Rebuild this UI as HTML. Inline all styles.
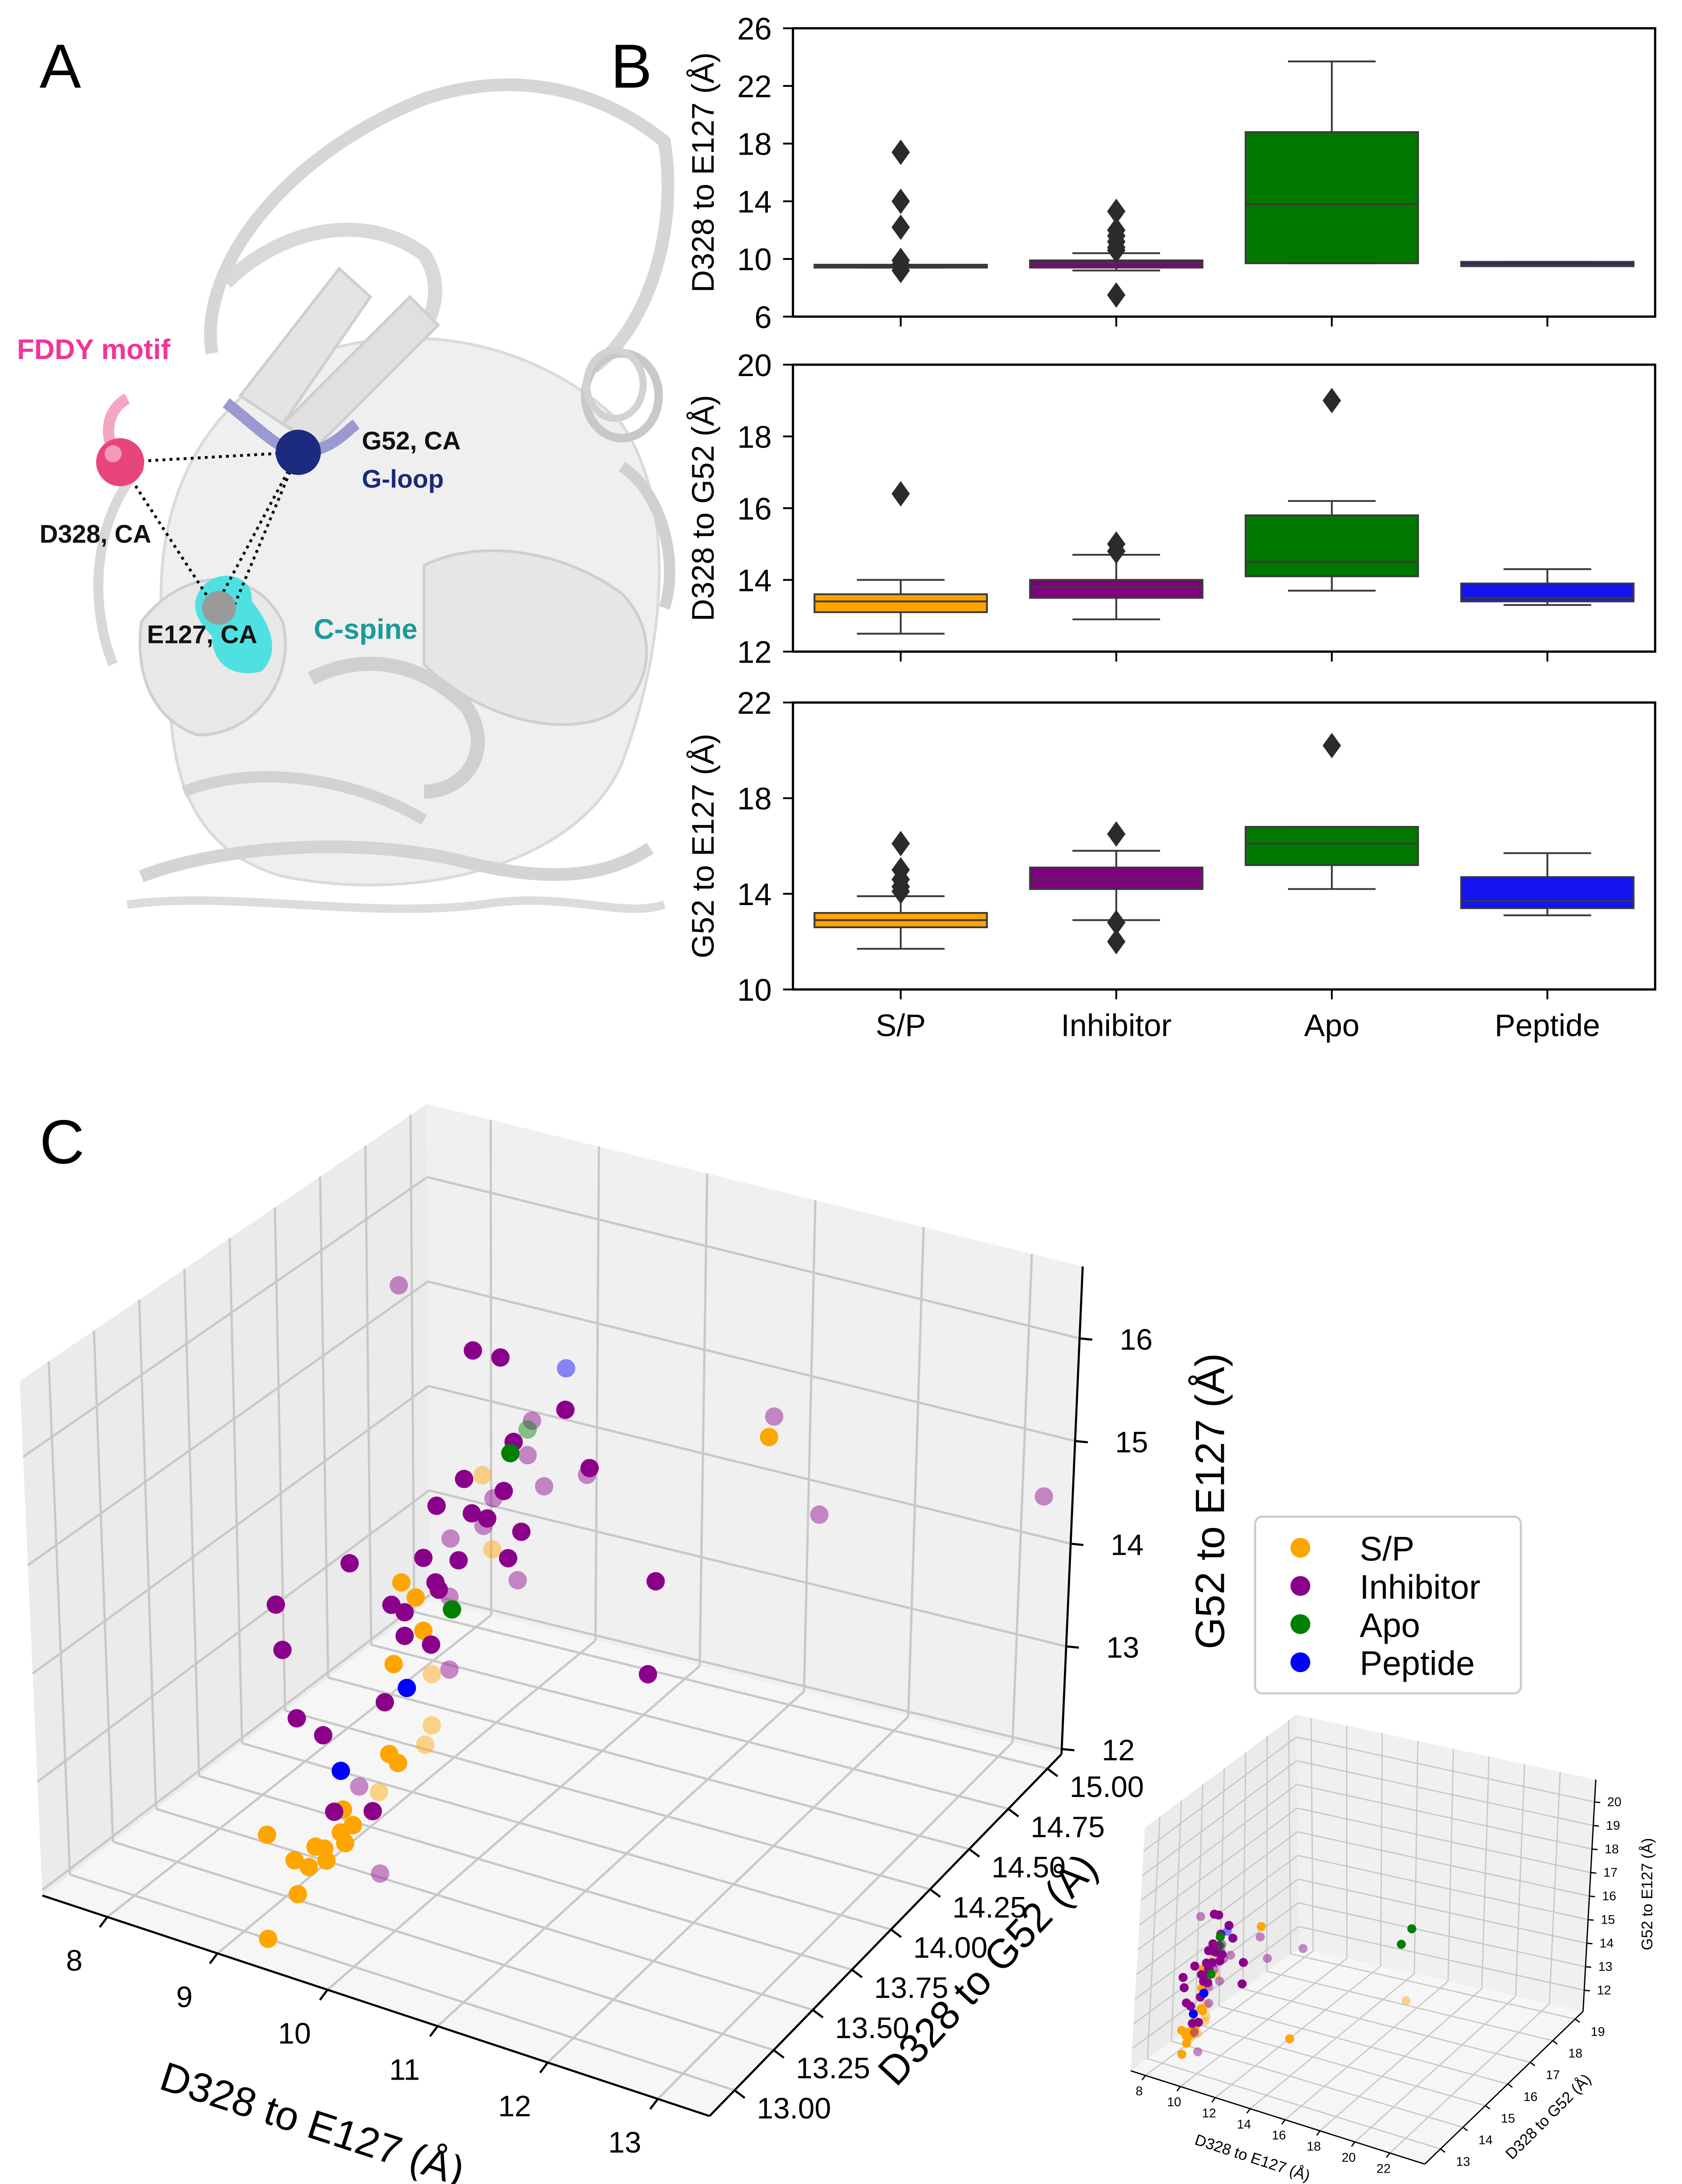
<!DOCTYPE html>
<html><head><meta charset="utf-8"><style>
html,body{margin:0;padding:0;background:#fff;overflow:hidden;}
svg{display:block;font-family:"Liberation Sans",sans-serif;}
</style></head><body>
<svg id="fig" xmlns="http://www.w3.org/2000/svg" width="3851" height="5079" viewBox="0 0 1190 1569.5" preserveAspectRatio="none">
<rect x="0" y="0" width="1190" height="1569.5" fill="#fff"/>
<!-- Panel A -->
<g id="panelA">
<text x="28" y="62" font-size="44">A</text>
<g fill="#ececec" stroke="#cfcfcf" stroke-width="2">
<path d="M120 480 C100 380 130 300 200 260 C280 220 380 240 440 300 C480 360 470 460 440 540 C410 610 300 640 200 620 C130 600 120 540 120 480Z" fill="#efefef" stroke="#dadada"/>
<path d="M150 250 C140 190 200 110 300 70 C360 50 420 60 470 100 C480 160 460 230 420 260" fill="none" stroke="#d6d6d6" stroke-width="9"/>
<path d="M160 200 C200 160 260 150 300 180 C320 210 300 250 260 260" fill="none" stroke="#d9d9d9" stroke-width="10"/>
<path d="M170 280 L240 190 L262 210 L200 300Z" fill="#e4e4e4"/>
<path d="M200 300 L290 210 L310 230 L225 315Z" fill="#e0e0e0"/>
<ellipse cx="440" cy="280" rx="26" ry="30" fill="none" stroke="#c8c8c8" stroke-width="6"/>
<ellipse cx="435" cy="272" rx="20" ry="24" fill="none" stroke="#d2d2d2" stroke-width="5"/>
<path d="M300 400 C340 380 400 390 440 420 C470 450 460 500 420 510 C380 520 330 500 300 470Z" fill="#e6e6e6"/>
<path d="M100 440 C130 400 180 400 200 440 C210 480 180 520 140 520 C110 510 95 480 100 440Z" fill="#e8e8e8"/>
<path d="M100 620 C150 600 250 590 330 610 C390 625 430 620 460 600" fill="none" stroke="#d4d4d4" stroke-width="9"/>
<path d="M90 640 C160 630 260 650 340 640 C400 630 440 650 470 640" fill="none" stroke="#dcdcdc" stroke-width="6"/>
<path d="M130 560 C180 540 250 550 300 580" fill="none" stroke="#d2d2d2" stroke-width="8"/>
<path d="M220 480 C260 460 300 470 330 500 C350 530 330 560 300 560" fill="none" stroke="#d0d0d0" stroke-width="10"/>
<path d="M100 330 C70 360 60 420 80 470" fill="none" stroke="#d8d8d8" stroke-width="7"/>
<path d="M440 330 C470 350 480 400 470 430" fill="none" stroke="#d0d0d0" stroke-width="8"/>
</g>
<path d="M85 327 C72 310 75 290 90 282" fill="none" stroke="#f4a6c4" stroke-width="8"/>
<path d="M160 285 C180 300 200 322 215 320 C235 318 245 305 252 300" fill="none" stroke="#9a9ad0" stroke-width="8"/>
<path d="M140 420 C150 400 180 405 178 425 C190 440 200 460 185 475 C165 480 150 470 150 450 C140 440 135 430 140 420Z" fill="#3ee0e0" opacity="0.9"/>
<g stroke="#000" stroke-width="2" stroke-dasharray="2,3" fill="none">
<line x1="85" y1="327" x2="211" y2="320"/><line x1="85" y1="327" x2="152" y2="430"/><line x1="211" y1="320" x2="152" y2="430"/><line x1="211" y1="320" x2="165" y2="430"/>
</g>
<circle cx="85" cy="327" r="17" fill="#e8457f"/>
<circle cx="80" cy="321" r="6" fill="#f49abb"/>
<circle cx="211" cy="320" r="16" fill="#1c2a80"/>
<circle cx="155" cy="430" r="12" fill="#9a9a9a"/>
<g font-weight="bold" font-size="18">
<text x="12" y="254" fill="#f0359a" font-size="20">FDDY motif</text>
<text x="256" y="318" fill="#111">G52, CA</text>
<text x="256" y="345" fill="#1a2a7a">G-loop</text>
<text x="28" y="384" fill="#111">D328, CA</text>
<text x="104" y="455" fill="#111">E127, CA</text>
<text x="222" y="452" fill="#1a9a9a" font-size="20">C-spine</text>
</g>
</g>
<text x="432" y="62" font-size="44">B</text>
<text x="28" y="823" font-size="44">C</text>
<g id="panelB"></g>
<g id="panelC"></g>
<g id="inset"></g>
</svg>
<script>
// ---------- Box plot data ----------
const categories = ["S/P","Inhibitor","Apo","Peptide"];
const p1Q1 = [9.4, 9.4, 9.7, 9.5];
const p1Med = [9.5, 9.7, 13.8, 9.6];
const p1Q3 = [9.6, 9.9, 18.8, 9.8];
const p1Lo = [9.4, 9.2, 9.7, 9.5];
const p1Hi = [9.6, 10.4, 23.7, 9.8];
const p1Out = [[17.4,14.0,12.2,9.9,9.6,9.2],[13.3,12.0,11.6,11.2,10.8,10.6,7.5],[],[]];
const p1Ticks = [6,10,14,18,22,26];
const p2Q1 = [13.1, 13.5, 14.1, 13.4];
const p2Med = [13.4, 13.8, 14.5, 13.5];
const p2Q3 = [13.6, 14.0, 15.8, 13.9];
const p2Lo = [12.5, 12.9, 13.7, 13.3];
const p2Hi = [14.0, 14.7, 16.2, 14.3];
const p2Out = [[16.4],[15.0,14.8],[19.0],[]];
const p2Ticks = [12,14,16,18,20];
const p3Q1 = [12.6, 14.2, 15.2, 13.4];
const p3Med = [12.9, 14.6, 16.1, 13.7];
const p3Q3 = [13.2, 15.1, 16.8, 14.7];
const p3Lo = [11.7, 12.9, 14.2, 13.1];
const p3Hi = [13.9, 15.8, 16.8, 15.7];
const p3Out = [[16.1,15.0,14.6,14.3,14.1],[16.5,12.8,12.0],[20.2],[]];
const p3Ticks = [10,14,18,22];

// ---------- 3D scatter data (x: D328-E127, y: D328-G52, z: G52-E127) ----------
const spX = [13.30,8.75,9.02,8.74,8.99,9.12,9.18,9.28,9.26,9.45,9.41,9.52,9.43,9.89,9.96,10.09,10.16,9.85,9.93, 9.56,9.65,9.10,9.10,9.04,8.62];
const spY = [13.34,13.34,13.34,13.34,13.34,13.34,13.34,13.34,13.34,13.34,13.34,13.34,13.34,13.34,13.34,13.34,13.34,13.34,13.34, 14.14,14.14,14.14,14.14,14.14,14.14];
const spZ = [17.72,11.22,11.75,12.23,12.07,12.05,12.27,12.17,12.28,12.40,12.49,12.60,12.72,14.30,15.12,15.02,14.72,13.41,13.35, 14.77,14.08,12.67,12.17,11.96,11.35];
const inhX = [10.61,10.86,11.45,10.98,11.67,10.53,10.89,10.28,10.60,10.74,11.05,10.93,10.16,10.48,10.27,9.49,8.82,8.88,9.87,9.99,10.23,9.99,9.81,9.01,9.25,12.27,12.20,9.70,9.35,10.30, 8.80,12.21,12.62,14.66,10.01,9.97,10.51,10.12,9.66,9.57,9.27,9.88,9.26,8.44,8.63,9.26];
const inhY = [13.34,13.34,13.34,13.34,13.34,13.34,13.34,13.34,13.34,13.34,13.34,13.34,13.34,13.34,13.34,13.34,13.34,13.34,13.34,13.34,13.34,13.34,13.34,13.34,13.34,13.34,13.34,13.34,13.34,13.34, 14.14,14.14,14.14,14.14,14.14,14.14,14.14,14.14,14.14,14.14,14.14,14.14,14.14,14.14,14.14,14.14];
const inhZ = [17.61,17.63,17.33,16.85,16.84,16.33,16.34,15.98,16.02,16.02,16.00,15.70,15.43,15.52,15.23,15.14,14.50,14.08,14.87,14.84,14.61,14.61,13.90,13.46,13.38,15.95,15.02,12.80,12.67,15.17, 16.35,16.28,15.47,16.37,15.46,15.11,15.11,14.86,14.58,14.28,14.05,13.86,12.77,11.34,10.56,13.48];
const apoX = [10.42,10.95,9.97];
const apoY = [13.34,13.34,14.14];
const apoZ = [15.02,16.73,15.36];
const pepX = [10.01,9.41,10.32];
const pepY = [13.34,13.34,14.14];
const pepZ = [14.11,13.09,16.08];
const insetApoX = [18.5,17.9];
const insetApoY = [16.0,16.0];
const insetApoZ = [16.4,15.6];
const insetSpX = [20.1,15.1];
const insetSpY = [14.5,13.2];
const insetSpZ = [15.1,13.5];
const xTicksMain = [8,9,10,11,12,13];
const yTicksMain = [13.00,13.25,13.50,13.75,14.00,14.25,14.50,14.75,15.00];
const zTicksMain = [12,13,14,15,16];
const xTicksInset = [8,10,12,14,16,18,20,22];
const yTicksInset = [13,14,15,16,17,18,19];
const zTicksInset = [12,13,14,15,16,17,18,19,20];

const NS="http://www.w3.org/2000/svg";
function mk(tag, attrs, parent){const e=document.createElementNS(NS,tag);for(const k in attrs)e.setAttribute(k,attrs[k]);parent.appendChild(e);return e;}

// ---------- Panel B ----------
const B = document.getElementById('panelB');
const AX_L=561, AX_R=1171;
const catX = i => AX_L + (i+0.5)*(AX_R-AX_L)/4;
const boxW = 122, capW = 62;
const fills = ["#FFA500","#800080","#007800","#1414F0"];
function boxPanel(top,bottom,lo,hi,Q1,Med,Q3,WL,WH,Out,ticks,title,showX,name){
  const y = v => bottom - (v-lo)/(hi-lo)*(bottom-top);
  const g = mk('g',{},B);
  
  
  for(let i=0;i<categories.length;i++){
    const cx=catX(i);
    const w1=mk('line',{x1:cx,x2:cx,y1:y(Q3[i]),y2:y(WH[i]),stroke:'#3a3a3a','stroke-width':1.3},g);
    
    
    const w2=mk('line',{x1:cx,x2:cx,y1:y(Q1[i]),y2:y(WL[i]),stroke:'#3a3a3a','stroke-width':1.3},g);
    
    
    mk('line',{x1:cx-capW/2,x2:cx+capW/2,y1:y(WH[i]),y2:y(WH[i]),stroke:'#3a3a3a','stroke-width':1.3},g);
    mk('line',{x1:cx-capW/2,x2:cx+capW/2,y1:y(WL[i]),y2:y(WL[i]),stroke:'#3a3a3a','stroke-width':1.3},g);
    const r=mk('rect',{x:cx-boxW/2,y:y(Q3[i]),width:boxW,height:Math.max(1.5,y(Q1[i])-y(Q3[i])),fill:fills[i],stroke:'#3a3a3a','stroke-width':1.3},g);
    
    
    mk('line',{x1:cx-boxW/2,x2:cx+boxW/2,y1:y(Med[i]),y2:y(Med[i]),stroke:'#3a3a3a','stroke-width':1.3},g);
    for(const o of Out[i]){
      const yy=y(o);
      const d=mk('path',{d:`M${cx} ${yy-9} L${cx+6.5} ${yy} L${cx} ${yy+9} L${cx-6.5} ${yy}Z`,fill:'#2b2b2b'},g);
      
      
    }
    mk('line',{x1:cx,x2:cx,y1:bottom,y2:bottom+7,stroke:'#000','stroke-width':1.3},g);
    if(showX){
      const t=mk('text',{x:cx,y:bottom+33,'font-size':22,'text-anchor':'middle'},g);
      t.textContent=categories[i];
      
      
    }
  }
  for(const tv of ticks){
    mk('line',{x1:AX_L-7,x2:AX_L,y1:y(tv),y2:y(tv),stroke:'#000','stroke-width':1.3},g);
    const t=mk('text',{x:AX_L-15,y:y(tv)+8,'font-size':22,'text-anchor':'end'},g);
    t.textContent=tv;
    
    
  }
  mk('rect',{x:AX_L,y:top,width:AX_R-AX_L,height:bottom-top,fill:'none',stroke:'#000','stroke-width':1.6},g);
  const tt=mk('text',{x:0,y:0,'font-size':22,'text-anchor':'middle',transform:`translate(505 ${(top+bottom)/2}) rotate(-90)`},g);
  tt.textContent=title;
  
  
}
boxPanel(20,224,6,26,p1Q1,p1Med,p1Q3,p1Lo,p1Hi,p1Out,p1Ticks,"D328 to E127 (Å)",false,'boxplot-d328-e127');
boxPanel(258,461,12,20,p2Q1,p2Med,p2Q3,p2Lo,p2Hi,p2Out,p2Ticks,"D328 to G52 (Å)",false,'boxplot-d328-g52');
boxPanel(497,700,10,22,p3Q1,p3Med,p3Q3,p3Lo,p3Hi,p3Out,p3Ticks,"G52 to E127 (Å)",true,'boxplot-g52-e127');

// ---------- 3D helpers ----------
function lerp(a,b,t){return [a[0]+(b[0]-a[0])*t,a[1]+(b[1]-a[1])*t];}
function bil(q,s,t){return lerp(lerp(q[0],q[1],s),lerp(q[3],q[2],s),t);}
function make3D(parent,G,R,opts){
  const {xmin,xmax,ymin,ymax,zmin,zmax}=R;
  const ex=[(G.F[0]-G.L[0])/(xmax-xmin),(G.F[1]-G.L[1])/(xmax-xmin)];
  const ey=[(G.R[0]-G.F[0])/(ymax-ymin),(G.R[1]-G.F[1])/(ymax-ymin)];
  const ezs=(G.R[1]-G.Rt[1])/(zmax-zmin);
  const proj=(x,y,z)=>[G.L[0]+ex[0]*(x-xmin)+ey[0]*(y-ymin),G.L[1]+ex[1]*(x-xmin)+ey[1]*(y-ymin)-ezs*(z-zmin)];
  const left=[G.L,G.B,G.Bt,G.Lt], right=[G.B,G.R,G.Rt,G.Bt], floor=[G.L,G.F,G.R,G.B];
  const pl=q=>q.map(p=>p.join(',')).join(' ');
  const lw=mk('polygon',{points:pl(left),fill:'#ebebeb'},parent);
   
  const rw=mk('polygon',{points:pl(right),fill:'#f0f0f0'},parent);
   
  const fl=mk('polygon',{points:pl(floor),fill:'#f6f6f6'},parent);
   
  const gl=(a,b)=>mk('line',{x1:a[0],y1:a[1],x2:b[0],y2:b[1],stroke:'#c8c8c8','stroke-width':opts.gw},parent);
  const fx=v=>(v-xmin)/(xmax-xmin), fy=v=>(v-ymin)/(ymax-ymin), fz=v=>(v-zmin)/(zmax-zmin);
  for(const v of opts.xt){const s=fx(v); gl(bil(right,s,0),bil(right,s,1)); gl(bil(floor,s,0),bil(floor,s,1));}
  for(const v of opts.yt){const s=fy(v); gl(bil(left,s,0),bil(left,s,1)); gl(bil(floor,0,s),bil(floor,1,s));}
  for(const v of opts.zt){const s=fz(v); gl(bil(left,0,s),bil(left,1,s)); gl(bil(right,0,s),bil(right,1,s));}
  mk('line',{x1:G.L[0],y1:G.L[1],x2:G.F[0],y2:G.F[1],stroke:'#000','stroke-width':opts.aw},parent);
  mk('line',{x1:G.F[0],y1:G.F[1],x2:G.R[0],y2:G.R[1],stroke:'#000','stroke-width':opts.aw},parent);
  mk('line',{x1:G.R[0],y1:G.R[1],x2:G.Rt[0],y2:G.Rt[1],stroke:'#000','stroke-width':opts.aw},parent);
  for(const v of opts.xt){const p=lerp(G.L,G.F,fx(v)); mk('line',{x1:p[0],y1:p[1],x2:p[0]-opts.tl*0.6,y2:p[1]+opts.tl*0.8,stroke:'#000','stroke-width':opts.aw},parent);
    const t=mk('text',{x:p[0]-opts.tl*0.6+opts.xlo[0],y:p[1]+opts.xlo[1],'font-size':opts.fs,'text-anchor':'middle'},parent);
    t.textContent=v;  }
  for(const v of opts.yt){const p=lerp(G.F,G.R,fy(v)); mk('line',{x1:p[0],y1:p[1],x2:p[0]+opts.tl*0.8,y2:p[1]+opts.tl*0.6,stroke:'#000','stroke-width':opts.aw},parent);
    const t=mk('text',{x:p[0]+opts.ylo[0],y:p[1]+opts.ylo[1],'font-size':opts.fs,'text-anchor':'middle'},parent);
    t.textContent=opts.yfmt(v);  }
  for(const v of opts.zt){const p=lerp(G.R,G.Rt,fz(v)); mk('line',{x1:p[0],y1:p[1],x2:p[0]+opts.tl,y2:p[1]+opts.tl*0.1,stroke:'#000','stroke-width':opts.aw},parent);
    const t=mk('text',{x:p[0]+opts.zlo[0],y:p[1]+opts.zlo[1],'font-size':opts.fs,'text-anchor':'middle'},parent);
    t.textContent=v;  }
  return proj;
}
function scatter(parent,proj,X,Y,Z,color,r,name,fadeY){
  for(let i=0;i<X.length;i++){
    const p=proj(X[i],Y[i],Z[i]);
    const c=mk('circle',{cx:p[0],cy:p[1],r:r,fill:color,'fill-opacity':Y[i]>fadeY?0.45:1},parent);
    
    
  }
}

// ---------- Main 3D ----------
const C=document.getElementById('panelC');
const G1={L:[30,1341],F:[502,1497],R:[751,1241],Rt:[766,896],B:[304,1132],Bt:[302,781],Lt:[14,977]};
const R1={xmin:7.41,xmax:13.47,ymin:12.84,ymax:15.09,zmin:11.95,zmax:16.7};
const proj1=make3D(C,G1,R1,{xt:xTicksMain,yt:yTicksMain,zt:zTicksMain,gw:1.6,aw:1.5,tl:9,fs:21,
  xlo:[-18,38],ylo:[42,20],zlo:[40,8],yfmt:v=>v.toFixed(2)});
scatter(C,proj1,spX,spY,spZ,'#FFA500',6.5,'sp-point',13.8);
scatter(C,proj1,inhX,inhY,inhZ,'#8B008B',6.5,'inhibitor-point',13.8);
scatter(C,proj1,apoX,apoY,apoZ,'#008000',6.5,'apo-point',13.8);
scatter(C,proj1,pepX,pepY,pepZ,'#0000FF',6.5,'peptide-point',13.8);
(function(){
  let t=mk('text',{x:0,y:0,'font-size':29,'text-anchor':'middle',transform:'translate(218 1512) rotate(18)'},C);
  t.textContent='D328 to E127 (Å)';  
  t=mk('text',{x:0,y:0,'font-size':29,'text-anchor':'middle',transform:'translate(706 1400) rotate(-47)'},C);
  t.textContent='D328 to G52 (Å)';  
  t=mk('text',{x:0,y:0,'font-size':29,'text-anchor':'middle',transform:'translate(866 1062) rotate(-90)'},C);
  t.textContent='G52 to E127 (Å)';  
})();

// ---------- Legend ----------
const legNames=["S/P","Inhibitor","Apo","Peptide"];
const legColors=["#FFA500","#8B008B","#008000","#0000FF"];
const lg=mk('g',{},C);
 
mk('rect',{x:888,y:1073,width:188,height:125,rx:5,fill:'#fff',stroke:'#cccccc','stroke-width':1.5},lg);
for(let i=0;i<4;i++){
  const e=mk('g',{},lg);
   
  mk('circle',{cx:920,cy:1095+i*27,r:7,fill:legColors[i]},e);
  const t=mk('text',{x:962,y:1104+i*27,'font-size':24},e); t.textContent=legNames[i];
}

// ---------- Inset 3D ----------
const I=document.getElementById('inset');
const G2={L:[800,1465],F:[1008,1531],R:[1120,1423],Rt:[1129,1259],B:[919,1378],Bt:[917,1213],Lt:[810,1293]};
const R2={xmin:7.16,xmax:24.0,ymin:12.3,ymax:19.35,zmin:11.1,zmax:20.95};
const proj2=make3D(I,G2,R2,{xt:xTicksInset,yt:yTicksInset,zt:zTicksInset,gw:0.9,aw:0.9,tl:4,fs:9,
  xlo:[-2,14],ylo:[16,12],zlo:[14,3],yfmt:v=>v});
scatter(I,proj2,spX,spY,spZ,'#FFA500',3.2,'inset-sp-point',13.8);
scatter(I,proj2,insetSpX,insetSpY,insetSpZ,'#FFA500',3.2,'inset-sp-point',14.3);
scatter(I,proj2,inhX,inhY,inhZ,'#8B008B',3.2,'inset-inhibitor-point',13.8);
scatter(I,proj2,apoX,apoY,apoZ,'#008000',3.2,'inset-apo-point',13.8);
scatter(I,proj2,insetApoX,insetApoY,insetApoZ,'#008000',3.2,'inset-apo-point',16.5);
scatter(I,proj2,pepX,pepY,pepZ,'#0000FF',3.2,'inset-peptide-point',13.8);
(function(){
  let t=mk('text',{x:0,y:0,'font-size':11,'text-anchor':'middle',transform:'translate(885 1530) rotate(18)'},I);
  t.textContent='D328 to E127 (Å)';  
  t=mk('text',{x:0,y:0,'font-size':11,'text-anchor':'middle',transform:'translate(1098 1500) rotate(-45)'},I);
  t.textContent='D328 to G52 (Å)';  
  t=mk('text',{x:0,y:0,'font-size':11,'text-anchor':'middle',transform:'translate(1169 1340) rotate(-90)'},I);
  t.textContent='G52 to E127 (Å)';  
})();
</script>
</body></html>
